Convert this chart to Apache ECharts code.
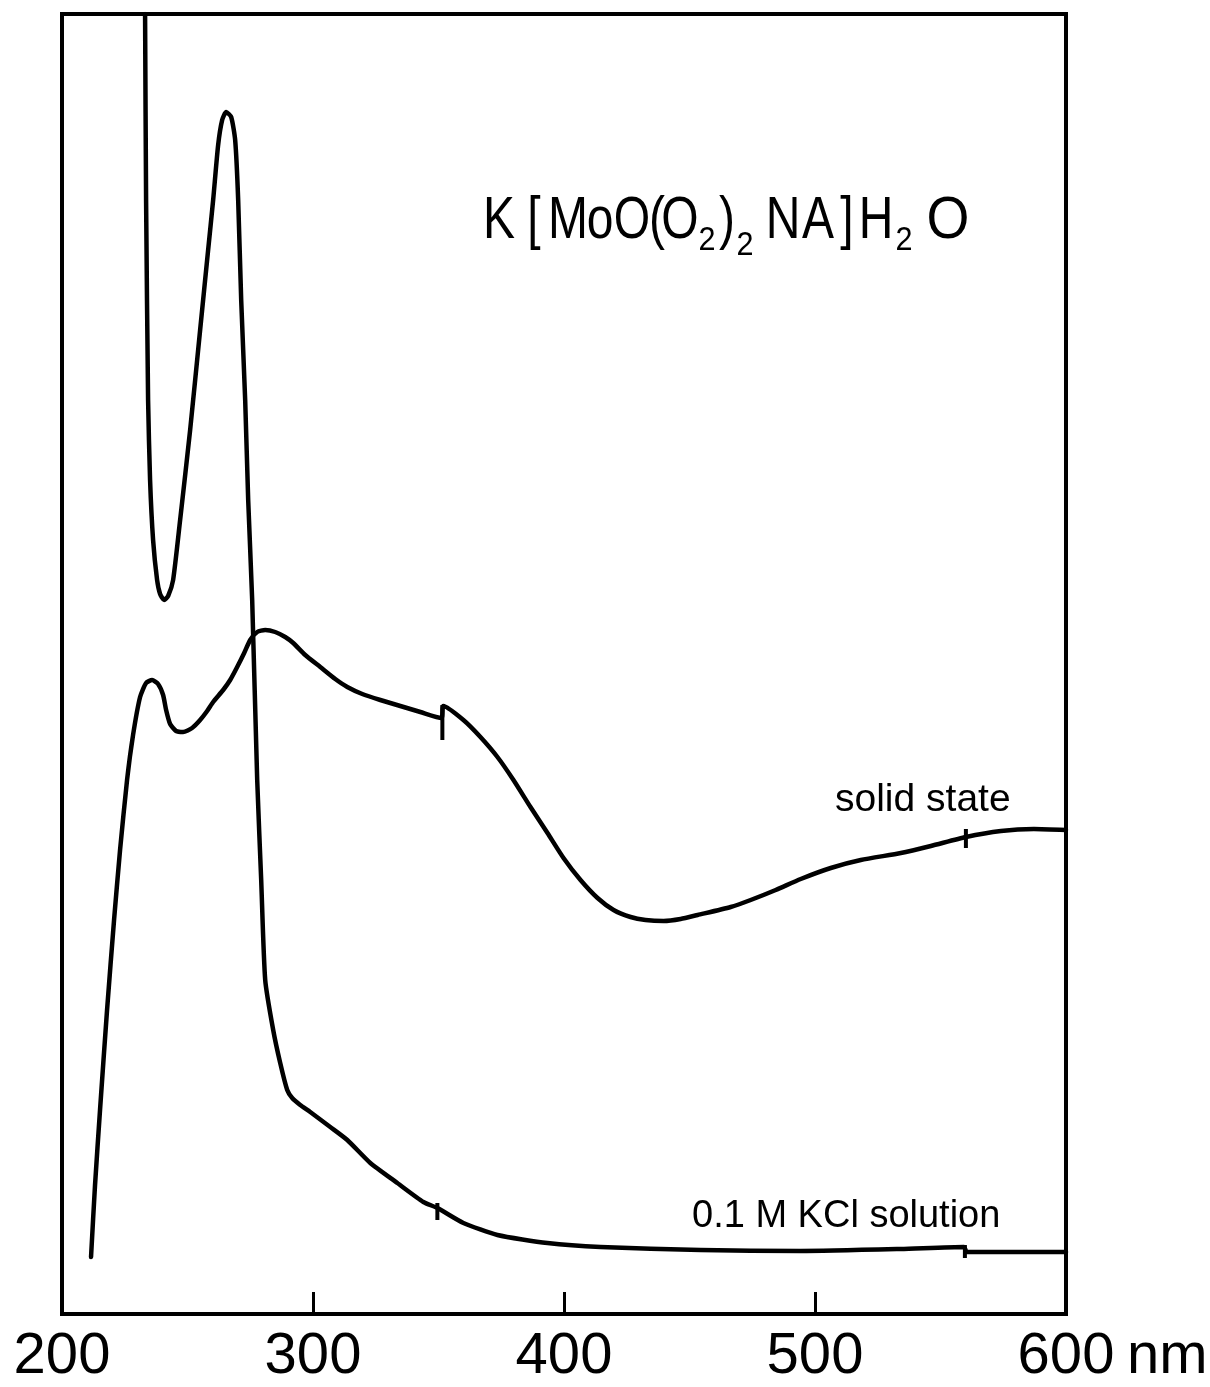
<!DOCTYPE html>
<html>
<head>
<meta charset="utf-8">
<script src="https://cdn.jsdelivr.net/npm/echarts@6/dist/echarts.min.js"></script>
<style>html,body{margin:0;padding:0;background:#fff}#c{width:1210px;height:1387px}</style>
</head>
<body>
<div id="c"></div>
<script>
// Wavelength (nm) ticks
const xTicks = [200, 300, 400, 500, 600];

// 0.1 M KCl solution spectrum: [wavelength nm, absorbance (arb.)]
const kclSolution = [
  [233.10,1.300],[233.50,1.114],[234.30,0.914],[235.09,0.834],[236.29,0.774],[237.89,0.734],
  [239.08,0.720],[240.68,0.714],[242.28,0.718],[244.27,0.734],[247.06,0.794],[251.05,0.884],
  [255.03,0.984],[258.22,1.064],[260.22,1.114],[262.21,1.169],[263.81,1.194],[265.40,1.202],
  [267.40,1.197],[268.99,1.174],[270.19,1.114],[271.39,1.014],[272.98,0.914],[274.18,0.814],
  [275.77,0.714],[277.77,0.534],[279.36,0.434],[280.96,0.334],[284.14,0.284],[286.94,0.251],
  [289.73,0.224],[291.72,0.216],[294.91,0.209],[298.90,0.202],[306.88,0.187],[313.66,0.174],
  [322.83,0.151],[333.60,0.131],[343.97,0.112],[349.55,0.106],[359.92,0.091],[373.48,0.079],
  [393.42,0.071],[414.55,0.067],[454.43,0.064],[494.31,0.063],[534.19,0.065],[559.32,0.067],
  [560.52,0.062],[600.00,0.062]
];

// Solid state spectrum: [wavelength nm, absorbance (arb.)]
const solidState = [
  [211.57,0.057],[213.16,0.129],[215.15,0.204],[217.95,0.304],[220.74,0.394],[223.13,0.464],
  [225.92,0.534],[228.31,0.579],[231.11,0.617],[233.50,0.631],[235.89,0.634],[238.28,0.630],
  [240.28,0.619],[241.48,0.604],[243.07,0.590],[245.46,0.583],[248.25,0.582],[251.84,0.586],
  [255.03,0.594],[257.83,0.603],[260.22,0.612],[264.21,0.624],[267.00,0.634],[269.79,0.647],
  [272.58,0.661],[274.97,0.674],[277.77,0.682],[280.96,0.684],[284.94,0.682],[288.93,0.677],
  [292.12,0.671],[296.91,0.659],[302.89,0.647],[308.87,0.635],[313.66,0.627],[319.64,0.620],
  [326.82,0.614],[334.79,0.608],[342.77,0.602],[351.15,0.596],[351.94,0.608],[359.92,0.594],
  [366.70,0.577],[373.48,0.557],[379.86,0.534],[386.64,0.507],[393.42,0.481],[399.80,0.456],
  [406.58,0.434],[413.36,0.416],[419.74,0.404],[426.52,0.397],[432.50,0.394],[439.68,0.393],
  [446.46,0.395],[453.24,0.399],[466.40,0.407],[474.37,0.414],[484.34,0.424],[494.31,0.435],
  [506.28,0.446],[518.24,0.454],[534.19,0.461],[546.16,0.468],[560.12,0.477],[574.07,0.483],
  [587.24,0.485],[600.00,0.484]
];

// Recorder wavelength marks on the traces: [wavelength, absorbance from, absorbance to]
const recorderMarks = [
  [349.55,0.111,0.094],
  [559.72,0.069,0.056],
  [351.54,0.609,0.574],
  [560.12,0.485,0.466]
];

// Text labels
const curveLabels = [
  {text: 'solid state', x: 835, y: 800, size: 39},
  {text: '0.1 M KCl solution', x: 692, y: 1217, size: 38}
];
// Formula K[MoO(O2)2 NA]H2O, pieces: [text, centerX, baseline, fontSize, scaleX]
const formulaPieces = [
  ['K',499,242,60,0.8],['[',534,242,60,0.8],['M',568,242,60,0.8],['o',600,242,60,0.8],['O',632,242,60,0.78],
  ['(',657,242,60,0.8],['O',680,242,60,0.8],['2',707,252,34,0.9],[')',727,242,60,0.8],['2',745,257,34,0.9],
  ['N',783,242,60,0.8],['A',818,242,60,0.8],[']',847,242,60,0.8],['H',876,242,60,0.8],['2',904,252,34,0.9],
  ['O',948,242,60,0.92]
];

const FONT = 'Liberation Sans';
const chart = echarts.init(document.getElementById('c'), null, {renderer: 'canvas'});

const series = [
  {type:'line', data: kclSolution, showSymbol:false, smooth:0.2,
   lineStyle:{color:'#000', width:4.5, join:'round', cap:'round'}, z:3},
  {type:'line', data: solidState, showSymbol:false, smooth:0.2,
   lineStyle:{color:'#000', width:4.5, join:'round', cap:'round'}, z:3}
];
recorderMarks.forEach(m => {
  series.push({type:'line', data:[[m[0], m[1]], [m[0], m[2]]], showSymbol:false,
    lineStyle:{color:'#000', width:4}, z:3});
});

const graphics = [];
curveLabels.forEach(l => graphics.push({
  type:'text', x:l.x, y:l.y,
  style:{text:l.text, font: l.size + 'px "' + FONT + '"', fill:'#000', align:'left', verticalAlign:'middle'}
}));
formulaPieces.forEach(p => graphics.push({
  type:'text', x:p[1], y:p[2] - 0.3465 * p[3], scaleX: p[4],
  style:{text:p[0], font: p[3] + 'px "' + FONT + '"', fill:'#000', align:'center', verticalAlign:'middle'}
}));
graphics.push({
  type:'text', x:1127, y:1314 + 14, scaleX:1.0,
  style:{text:'nm', font:'58px "' + FONT + '"', fill:'#000', align:'left', verticalAlign:'top'}
});

chart.setOption({
  animation:false,
  backgroundColor:'#fff',
  grid:{left:62, right:144, top:14, bottom:73, show:true, borderColor:'#000', borderWidth:4, backgroundColor:'transparent'},
  xAxis:{
    type:'value', min:xTicks[0], max:xTicks[xTicks.length-1], interval:100,
    axisLine:{show:false},
    axisTick:{show:true, inside:true, length:22, lineStyle:{color:'#000', width:3}},
    splitLine:{show:false},
    axisLabel:{show:true, color:'#000', fontSize:58, fontFamily:FONT, margin:14,
      customValues: xTicks}
  },
  yAxis:{
    type:'value', min:0, max:1.3,
    axisLine:{show:false}, axisTick:{show:false}, axisLabel:{show:false}, splitLine:{show:false}
  },
  series: series,
  graphic: graphics
});
</script>
</body>
</html>
